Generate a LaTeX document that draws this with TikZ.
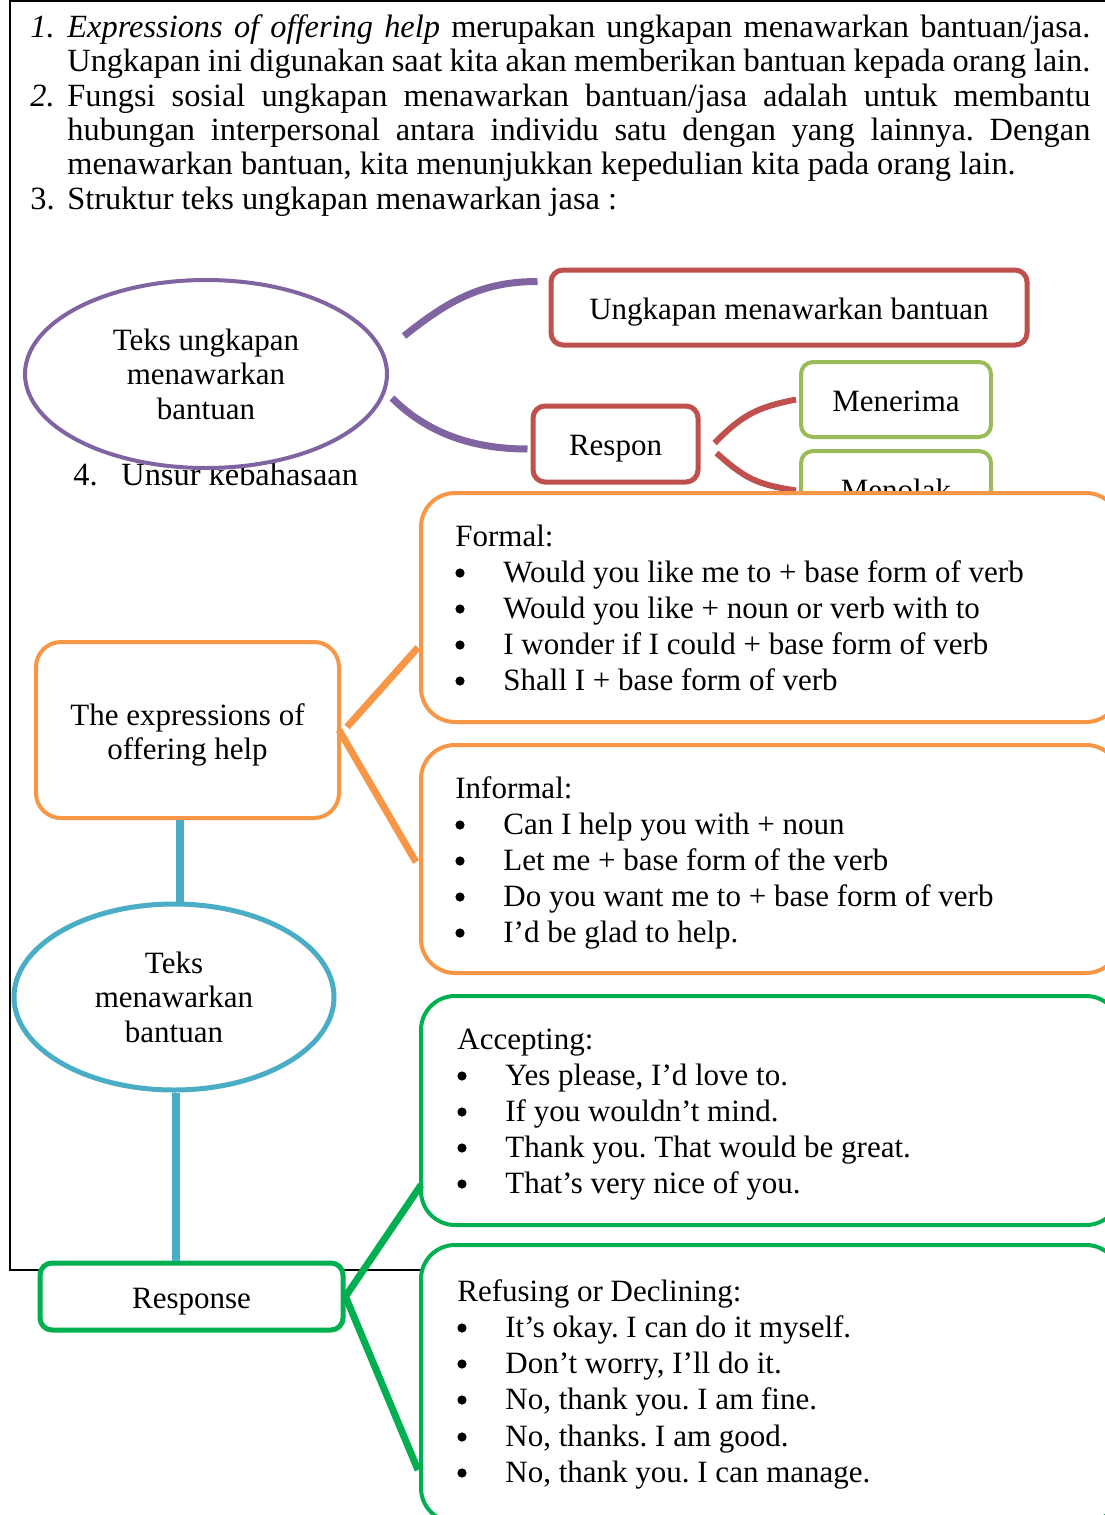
\documentclass[tikz,border=0pt]{standalone}
\usepackage{fontspec}
\setmainfont{Liberation Serif}
\usetikzlibrary{shapes.geometric}
\definecolor{cpurple}{HTML}{8064A2}
\definecolor{cred}{HTML}{C0504D}
\definecolor{colive}{HTML}{9BBB59}
\definecolor{corange}{HTML}{F79646}
\definecolor{cblue}{HTML}{4BACC6}
\definecolor{cgreen}{HTML}{00B050}
\frenchspacing
\newcommand\fnt{\fontsize{15.5}{17.25}\selectfont}
\newcommand\pfnt{\fontsize{16.2}{17.25}\selectfont}
\newcommand\bitem[4]{\node[bul] (#1b) at (#2-43,#3-9) {}; \node[txt] (#1) at (#2,#3) {#4};}
\newcommand\twoline[2]{\raisebox{-2.75pt}[\height][\depth]{\begin{tabular}{@{}c@{}}#1\\#2\end{tabular}}}
\begin{document}
\begin{tikzpicture}[x=0.5pt,y=-0.5pt,
  txt/.style={inner sep=0pt, anchor=base west, font=\fnt},
  ptxt/.style={inner sep=0pt, anchor=base west, font=\pfnt},
  bul/.style={circle, fill=black, inner sep=0pt, minimum size=4.6pt},
  ctext/.style={align=center, font=\fnt, inner sep=0pt},
  onetext/.style={text height=12pt, text depth=0.5pt},
  ovalbox/.style={ellipse, draw, fill=white, ctext},
  rbox/.style={draw=cred, line width=2.5pt, fill=white, rounded corners=6pt, ctext, onetext},
  obox/.style={draw=colive, line width=2pt, fill=white, rounded corners=6pt, ctext, onetext, minimum width=95pt, minimum height=37.5pt},
  bigbox/.style={draw, fill=white, line width=2pt, rounded corners=17pt, minimum width=349.5pt, inner sep=0pt},
  conn/.style={line width=3.5pt}
]
\useasboundingbox (0,0) rectangle (1104,1515);

% frame
\draw[line width=1pt] (1130,1) -- (10,1) -- (10,1270) -- (1130,1270);

% top paragraph
\node[ptxt] (n1) at (30,37) {\textit{1.}};
\node[ptxt] (l1) at (67,37) {\makebox[511.5pt][s]{\textit{Expressions of offering help} merupakan ungkapan menawarkan bantuan/jasa.}};
\node[ptxt] (l2) at (67,71) {\makebox[511.5pt][s]{Ungkapan ini digunakan saat kita akan memberikan bantuan kepada orang lain.}};
\node[ptxt] (n2) at (30,106) {\textit{2.}};
\node[ptxt] (l3) at (67,106) {\makebox[511.5pt][s]{Fungsi sosial ungkapan menawarkan bantuan/jasa adalah untuk membantu}};
\node[ptxt] (l4) at (67,140) {\makebox[511.5pt][s]{hubungan interpersonal antara individu satu dengan yang lainnya. Dengan}};
\node[ptxt] (l5) at (67,174) {menawarkan bantuan, kita menunjukkan kepedulian kita pada orang lain.};
\node[ptxt] (n3) at (30,209) {3.};
\node[ptxt] (l6) at (67,209) {Struktur teks ungkapan menawarkan jasa :};
\node[ptxt] (n4) at (73,485) {4.};
\node[ptxt] (l7) at (121,485) {Unsur kebahasaan};

% structure diagram
\node[ovalbox, draw=cpurple, line width=2pt, minimum width=181pt, minimum height=94pt] (ell1) at (206,374) {Teks ungkapan\\menawarkan\\bantuan};
\node[rbox, minimum width=238pt, minimum height=37.5pt] (ung) at (789,307.5) {Ungkapan menawarkan bantuan};
\node[rbox, minimum width=82.5pt, minimum height=38pt] (respon) at (615.5,444) {Respon};
\node[obox] (terima) at (896,399.5) {Menerima};
\node[obox] (tolak) at (896,488.5) {Menolak};

\draw[conn, cpurple] ([xshift=7.5pt,yshift=19pt]ell1.east) .. controls +(45,-36) and +(-55,0) .. ([xshift=-5.5pt,yshift=-7pt]ung.north west);
\draw[conn, cpurple] ([xshift=1.5pt,yshift=-12pt]ell1.east) .. controls +(35,35) and +(-55,0) .. ([xshift=-1.5pt,yshift=-2.5pt]respon.west);
\draw[line width=3pt, cred] ([xshift=7pt,yshift=0.5pt]respon.east) .. controls +(28,-28) and +(-40,8) .. ([xshift=-1.5pt]terima.west);
\draw[line width=3pt, cred] ([xshift=8pt,yshift=-4.5pt]respon.east) .. controls +(28,25) and +(-40,-6) .. ([xshift=-1.5pt,yshift=-1pt]tolak.west);

% orange / blue / green diagram
\node[draw=corange, line width=2pt, fill=white, rounded corners=12.5pt, ctext, minimum width=151.5pt, minimum height=88pt] (expr) at (187.5,730) {\twoline{The expressions of}{offering help}};
\node[bigbox, draw=corange, minimum height=114.5pt] (formal) at (770.5,607.5) {};
\node[bigbox, draw=corange, minimum height=114pt] (informal) at (770.5,859) {};
\node[ovalbox, draw=cblue, line width=2.5pt, minimum width=160pt, minimum height=93pt] (ell2) at (174,997) {Teks\\menawarkan\\bantuan};
\node[bigbox, draw=cgreen, minimum height=114.5pt] (accept) at (770.5,1110.5) {};
\node[bigbox, draw=cgreen, minimum height=138.5pt] (refuse) at (770.5,1383.5) {};

\draw[conn, corange] ([xshift=3pt,yshift=1.5pt]expr.east) -- ([xshift=-0.5pt,yshift=-20pt]formal.west);
\draw[conn, corange] ([xshift=-1pt]expr.east) -- ([xshift=-1.5pt,yshift=-1.5pt]informal.west);
\draw[line width=4pt, cblue] ([xshift=-3.75pt]expr.south) -- ([xshift=3pt]ell2.north);

\node[draw=cgreen, line width=2.5pt, fill=white, rounded corners=6pt, ctext, onetext, minimum width=151.5pt, minimum height=33.5pt] (resp) at (191.5,1296.5) {Response};
\draw[line width=4pt, cblue] ([xshift=1pt]ell2.south) -- ([xshift=-7.75pt]resp.north);
\draw[conn, cgreen] (resp.east) -- ([xshift=1pt,yshift=-37.25pt]accept.west);
\draw[conn, cgreen] (resp.east) -- ([xshift=-0.5pt,yshift=-43.25pt]refuse.west);

% list texts
\node[txt] (ftitle) at (455,546) {Formal:};
\bitem{f1}{503}{582}{Would you like me to + base form of verb}
\bitem{f2}{503}{618}{Would you like + noun or verb with to}
\bitem{f3}{503}{654}{I wonder if I could + base form of verb}
\bitem{f4}{503}{690}{Shall I + base form of verb}

\node[txt] (ititle) at (455,798) {Informal:};
\bitem{i1}{503}{834}{Can I help you with + noun}
\bitem{i2}{503}{870}{Let me + base form of the verb}
\bitem{i3}{503}{906}{Do you want me to + base form of verb}
\bitem{i4}{503}{942}{I'd be glad to help.}

\node[txt] (atitle) at (457,1049) {Accepting:};
\bitem{a1}{505}{1085}{Yes please, I'd love to.}
\bitem{a2}{505}{1121}{If you wouldn't mind.}
\bitem{a3}{505}{1157}{Thank you. That would be great.}
\bitem{a4}{505}{1193}{That's very nice of you.}

\node[txt] (rtitle) at (457,1301) {Refusing or Declining:};
\bitem{r1}{505}{1337}{It's okay. I can do it myself.}
\bitem{r2}{505}{1373}{Don't worry, I'll do it.}
\bitem{r3}{505}{1409}{No, thank you. I am fine.}
\bitem{r4}{505}{1446}{No, thanks. I am good.}
\bitem{r5}{505}{1482}{No, thank you. I can manage.}
\end{tikzpicture}
\end{document}
